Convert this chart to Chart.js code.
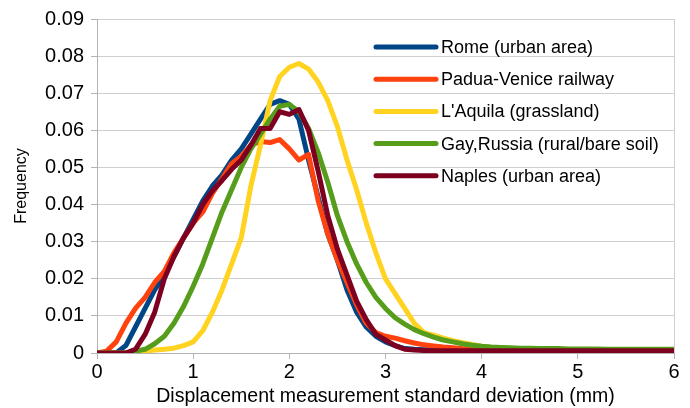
<!DOCTYPE html>
<html>
<head>
<meta charset="utf-8">
<script src="https://cdn.jsdelivr.net/npm/chart.js@4.4.0/dist/chart.umd.min.js"></script>
<style>
  body { margin: 0; background: #fff; }
  #wrap { width: 690px; height: 408px; }
</style>
</head>
<body>
<div id="wrap"><canvas id="freqChart" width="690" height="408"></canvas></div>
<script>
// displacement std. deviation (mm), sampled every 0.1 mm
const stdDev = [
  0.0, 0.1, 0.2, 0.3, 0.4, 0.5, 0.6, 0.7, 0.8, 0.9,
  1.0, 1.1, 1.2, 1.3, 1.4, 1.5, 1.6, 1.7, 1.8, 1.9,
  2.0, 2.1, 2.2, 2.3, 2.4, 2.5, 2.6, 2.7, 2.8, 2.9,
  3.0, 3.1, 3.2, 3.3, 3.4, 3.5, 3.6, 3.7, 3.8, 3.9,
  4.0, 4.1, 4.2, 4.3, 4.4, 4.5, 4.6, 4.7, 4.8, 4.9,
  5.0, 5.1, 5.2, 5.3, 5.4, 5.5, 5.6, 5.7, 5.8, 5.9, 6.0
];

const rome = [
  0, 0, 0, 0.002, 0.007, 0.012, 0.017, 0.021, 0.026, 0.031,
  0.036, 0.041, 0.045, 0.048, 0.052, 0.055, 0.059, 0.063, 0.067, 0.068,
  0.067, 0.063, 0.052, 0.042, 0.032, 0.025, 0.017, 0.011, 0.007, 0.0045,
  0.003, 0.002, 0.0012, 0.001, 0.0009, 0.0008, 0.0008, 0.0007, 0.0007, 0.0006,
  0.0006, 0.0006, 0.0006, 0.0005, 0.0005, 0.0005, 0.0005, 0.0005, 0.0005, 0.0005,
  0.0005, 0.0005, 0.0005, 0.0005, 0.0005, 0.0005, 0.0005, 0.0005, 0.0005, 0.0005, 0.0005
];

const padua = [
  0, 0.0005, 0.003, 0.008, 0.012, 0.015, 0.019, 0.022, 0.027, 0.031,
  0.035, 0.038, 0.043, 0.047, 0.051, 0.053, 0.056, 0.057, 0.0567, 0.0575,
  0.055, 0.052, 0.0535, 0.041, 0.032, 0.025, 0.019, 0.013, 0.008, 0.0055,
  0.0045, 0.004, 0.0033, 0.0027, 0.0022, 0.0019, 0.0016, 0.0014, 0.0012, 0.0011,
  0.001, 0.001, 0.001, 0.0009, 0.0009, 0.0009, 0.0009, 0.0009, 0.0008, 0.0008,
  0.0008, 0.0008, 0.0008, 0.0008, 0.0008, 0.0008, 0.0008, 0.0008, 0.0008, 0.0008, 0.0008
];

const aquila = [
  0, 0, 0, 0, 0.0003, 0.0005, 0.0008, 0.001, 0.0013, 0.002,
  0.003, 0.006, 0.011, 0.017, 0.024, 0.031, 0.045, 0.056, 0.068, 0.0745,
  0.077, 0.078, 0.0765, 0.073, 0.068, 0.061, 0.052, 0.044, 0.035, 0.027,
  0.020, 0.016, 0.012, 0.008, 0.0055, 0.0048, 0.004, 0.0033, 0.0028, 0.0023,
  0.0018, 0.0015, 0.0013, 0.0012, 0.001, 0.001, 0.0009, 0.0009, 0.0008, 0.0008,
  0.0007, 0.0007, 0.0007, 0.0006, 0.0006, 0.0006, 0.0006, 0.0005, 0.0005, 0.0005, 0.0005
];

const gay = [
  0, 0, 0, 0, 0.0005, 0.001, 0.0025, 0.0045, 0.008, 0.0125,
  0.018, 0.024, 0.031, 0.038, 0.044, 0.050, 0.055, 0.059, 0.063, 0.0665,
  0.067, 0.065, 0.0605, 0.054, 0.046, 0.037, 0.030, 0.024, 0.019, 0.015,
  0.012, 0.0095, 0.0078, 0.0063, 0.0052, 0.0043, 0.0035, 0.003, 0.0025, 0.0021,
  0.0018, 0.0016, 0.0015, 0.0014, 0.0013, 0.0013, 0.0012, 0.0012, 0.0012, 0.0011,
  0.0011, 0.0011, 0.0011, 0.001, 0.001, 0.001, 0.001, 0.001, 0.001, 0.001, 0.001
];

const naples = [
  0, 0, 0, 0, 0.001, 0.005, 0.011, 0.020, 0.026, 0.031,
  0.035, 0.040, 0.0437, 0.0465, 0.0495, 0.052, 0.056, 0.0605, 0.0605, 0.065,
  0.0643, 0.0656, 0.060, 0.049, 0.037, 0.028, 0.021, 0.014, 0.009, 0.005,
  0.0035, 0.002, 0.001, 0.0008, 0.0007, 0.0006, 0.0006, 0.0006, 0.0006, 0.0006,
  0.0006, 0.0006, 0.0006, 0.0006, 0.0006, 0.0006, 0.0006, 0.0006, 0.0006, 0.0006,
  0.0006, 0.0006, 0.0006, 0.0006, 0.0006, 0.0006, 0.0006, 0.0006, 0.0006, 0.0006, 0.0006
];

const seriesNames = [
  'Rome (urban area)',
  'Padua-Venice railway',
  "L'Aquila (grassland)",
  'Gay,Russia (rural/bare soil)',
  'Naples (urban area)'
];
const seriesValues = [rome, padua, aquila, gay, naples];
const seriesColors = ['#004586', '#ff420e', '#ffd320', '#579d1c', '#7e0021'];

const FONT = "'Liberation Sans', Arial, sans-serif";

// legend drawn inside the plot, top right, like the original
const innerLegend = {
  id: 'innerLegend',
  afterDatasetsDraw(chart) {
    const ctx = chart.ctx;
    ctx.save();
    ctx.font = '18px ' + FONT;
    ctx.textBaseline = 'middle';
    seriesNames.forEach((name, i) => {
      const y = 47 + i * 32.2;
      ctx.strokeStyle = seriesColors[i];
      ctx.lineWidth = 5;
      ctx.lineCap = 'round';
      ctx.beginPath();
      ctx.moveTo(376, y);
      ctx.lineTo(436, y);
      ctx.stroke();
      ctx.fillStyle = '#000';
      ctx.fillText(name, 441, y + 1);
    });
    ctx.restore();
  }
};

const datasets = seriesValues.map((vals, i) => ({
  label: seriesNames[i],
  data: vals.map((v, j) => ({ x: stdDev[j], y: v })),
  borderColor: seriesColors[i],
  backgroundColor: seriesColors[i],
  borderWidth: 5,
  pointRadius: 0,
  tension: 0,
  borderJoinStyle: 'round',
  order: seriesValues.length - i
}));

new Chart(document.getElementById('freqChart'), {
  type: 'line',
  data: { datasets },
  options: {
    responsive: false,
    animation: false,
    layout: { padding: { top: 17, right: 16, left: 0, bottom: 0 } },
    plugins: { legend: { display: false }, tooltip: { enabled: false } },
    scales: {
      x: {
        type: 'linear',
        min: 0,
        max: 6,
        ticks: { stepSize: 1, color: '#000', font: { family: FONT, size: 20 }, padding: 1, maxRotation: 0 },
        grid: {
          display: true,
          color: c => (c.tick && c.tick.value === 6) ? '#cfcfcf' : 'rgba(0,0,0,0)',
          tickColor: '#b3b3b3',
          tickLength: 6
        },
        border: { color: '#b3b3b3' },
        title: { display: true, text: 'Displacement measurement standard deviation (mm)', color: '#000', font: { family: FONT, size: 19.5 }, padding: { top: 0, bottom: 0 } },
        afterFit(scale) { scale.height = 55; }
      },
      y: {
        min: 0,
        max: 0.09,
        ticks: {
          stepSize: 0.01,
          color: '#000',
          font: { family: FONT, size: 20 },
          padding: 7,
          callback: v => v === 0 ? '0' : v.toFixed(2)
        },
        grid: { color: '#cfcfcf', tickColor: '#b3b3b3', tickLength: 6 },
        border: { color: '#b3b3b3' },
        title: { display: true, text: 'Frequency', color: '#000', font: { family: FONT, size: 16 }, padding: { top: 12, bottom: 0 } },
        afterFit(scale) { scale.width = 97; }
      }
    }
  },
  plugins: [innerLegend]
});
</script>
</body>
</html>
